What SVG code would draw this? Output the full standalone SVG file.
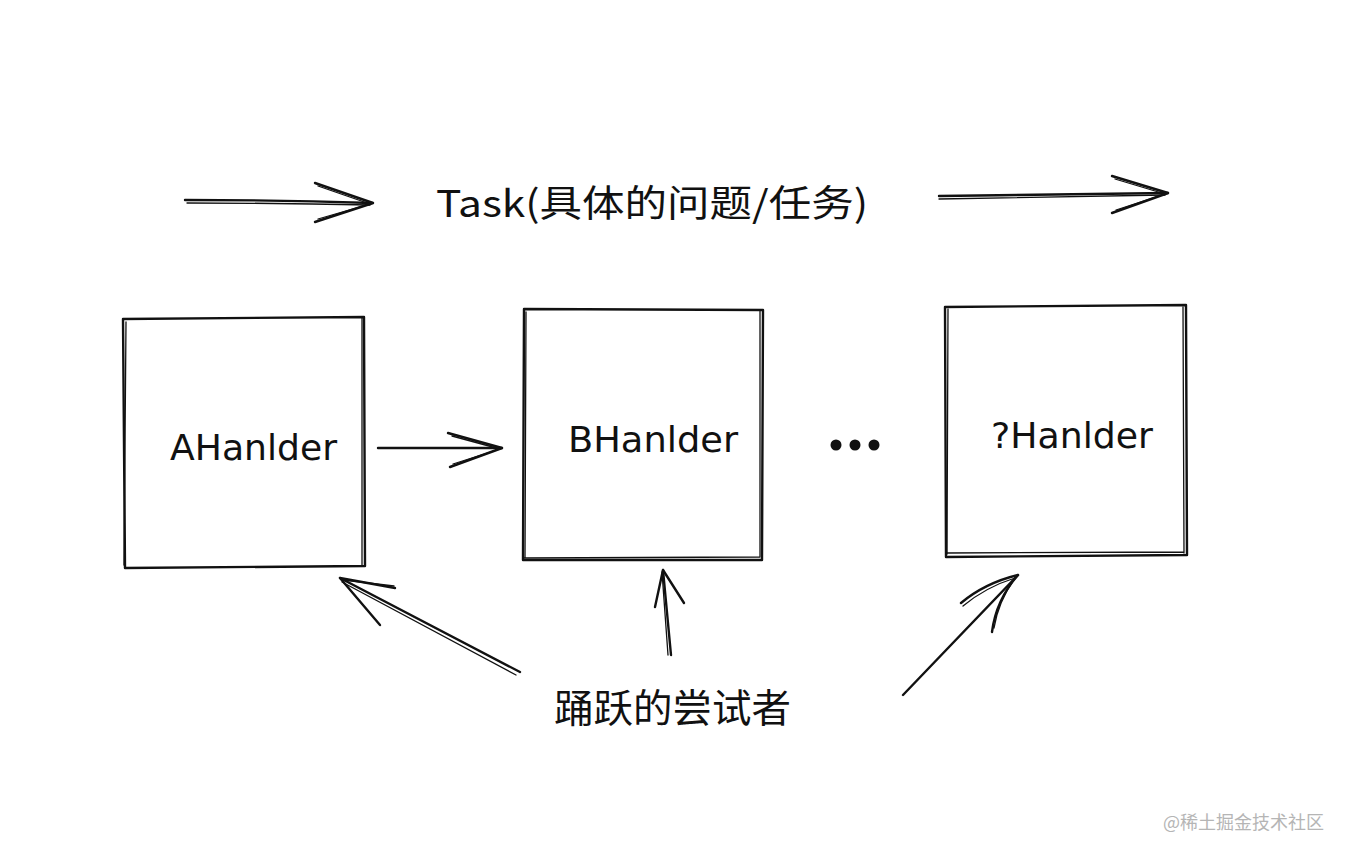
<svg xmlns="http://www.w3.org/2000/svg" width="1348" height="856" viewBox="0 0 1348 856">
<style>
.s{fill:none;stroke:#111;stroke-width:2.4;stroke-linecap:round;stroke-linejoin:round}
.t{stroke-width:1.3}
.lbl{font-family:"DejaVu Sans","Noto Sans",sans-serif;fill:#111}
.cjk{font-family:"Noto Sans CJK SC","Noto Sans",sans-serif;fill:#111}
.wm{font-family:"Noto Sans CJK SC",sans-serif;fill:#b5b5b5;font-size:18px}
</style>
<rect width="1348" height="856" fill="#fff"/>
<g id="connectors">
  <g id="task-in">
    <path class="s" d="M185 200 Q280 200 372 203"/>
    <path class="s t" d="M187 203 Q280 203 370 205"/>
    <path class="s" d="M315 183 L373 203 L315 222"/>
    <path class="s t" d="M318 186 L370 204 L318 219"/>
  </g>
  <g id="task-out">
    <path class="s" d="M939 196 Q1050 195 1168 193"/>
    <path class="s t" d="M939 199 Q1050 197 1165 195"/>
    <path class="s" d="M1112 176 L1168 193 L1112 213"/>
    <path class="s t" d="M1115 179 L1165 194 L1116 210"/>
  </g>
  <g id="a-to-b">
    <path class="s" d="M378 448 L502 448"/>
    <path class="s" d="M448 433 L502 448 L450 467"/>
    <path class="s t" d="M452 436 L500 449 L453 464"/>
  </g>
  <g id="try-a">
    <path class="s" d="M520 672 L340 578"/>
    <path class="s t" d="M516 675 L342 582"/>
    <path class="s" d="M380 625 L340 578 L395 588"/>
    <path class="s t" d="M343 580 L394 586"/>
  </g>
  <g id="try-b">
    <path class="s" d="M671 655 L663 570"/>
    <path class="s t" d="M668 655 L662 572"/>
    <path class="s" d="M655 607 L663 570 L684 603"/>
  </g>
  <g id="try-c">
    <path class="s" d="M903 695 L1018 575"/>
    <path class="s" d="M961 603 Q985 583 1018 575 Q996 600 992 632"/>
    <path class="s t" d="M963 606 Q986 587 1015 578 Q998 602 994 628"/>
  </g>
</g>
<g id="task-label">
  <text class="cjk" x="436" y="217" font-size="37" textLength="432" lengthAdjust="spacingAndGlyphs">Task(具体的问题/任务)</text>
</g>
<g id="node-a">
  <path class="s" d="M123 319 L364 317 L365 566 L125 568 Z"/>
  <path class="s t" d="M126 322 L124 565 M362 318 L362 565"/>
  <text class="lbl" x="170" y="460" font-size="36" textLength="167" lengthAdjust="spacingAndGlyphs">AHanlder</text>
</g>
<g id="node-b">
  <path class="s" d="M524 309 L763 310 L762 560 L523 560 Z"/>
  <path class="s t" d="M526 312 L525 558 M760 311 L760 557 M524 558 L760 557"/>
  <text class="lbl" x="568" y="452" font-size="36" textLength="170" lengthAdjust="spacingAndGlyphs">BHanlder</text>
</g>
<g id="ellipsis">
  <circle cx="836" cy="445" r="5.5" fill="#111"/>
  <circle cx="855" cy="445" r="5.5" fill="#111"/>
  <circle cx="874" cy="445" r="5.5" fill="#111"/>
</g>
<g id="node-c">
  <path class="s" d="M945 307 L1186 305 L1187 555 L946 557 Z"/>
  <path class="s t" d="M948 309 L947 554 M1183 307 L1184 553 M947 553 L1184 552"/>
  <text class="lbl" x="991" y="448" font-size="36" textLength="162" lengthAdjust="spacingAndGlyphs">?Hanlder</text>
</g>
<g id="tryer-label">
  <text class="cjk" x="554" y="722" font-size="39" textLength="237" lengthAdjust="spacingAndGlyphs">踊跃的尝试者</text>
</g>
<g id="watermark">
  <text class="wm" x="1163" y="829">@稀土掘金技术社区</text>
</g>
</svg>
